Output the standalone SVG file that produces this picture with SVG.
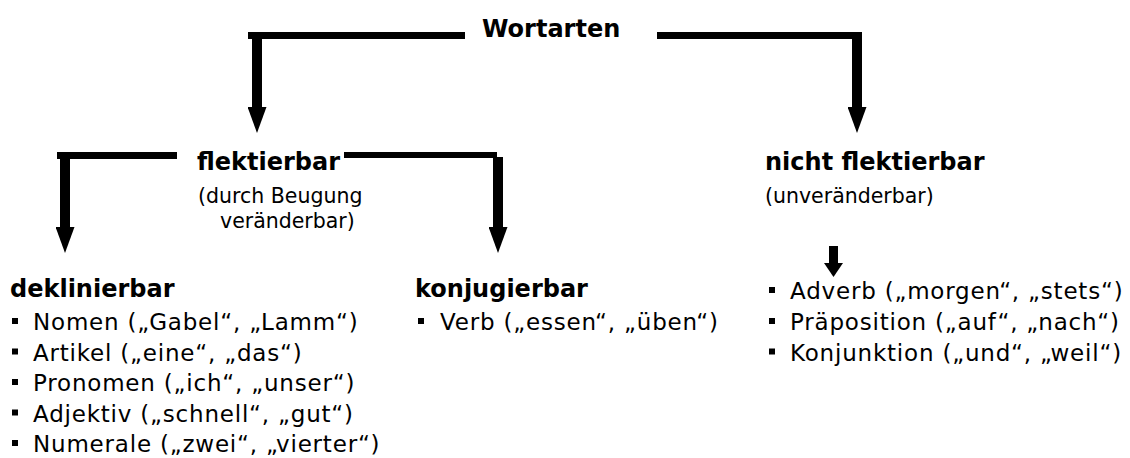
<svg xmlns="http://www.w3.org/2000/svg" width="1130" height="458" viewBox="0 0 1130 458">
<style>
.b{font-family:"DejaVu Sans",Verdana,sans-serif;font-weight:bold;font-size:24px;fill:#000}
.p{font-family:"DejaVu Sans",Verdana,sans-serif;font-size:20.5px;fill:#000}
.l{font-family:"DejaVu Sans",Verdana,sans-serif;font-size:23px;letter-spacing:0.8px;fill:#000}
.h{stroke:#000;stroke-width:7;fill:none}
.v{stroke:#000;stroke-width:10;fill:none}
.bul{fill:#000}
</style>
<defs>
<marker id="arr" markerUnits="userSpaceOnUse" markerWidth="26" markerHeight="19" viewBox="0 0 26 19" refX="0" refY="9.5" orient="auto">
<path d="M0,0 L26,9.5 L0,19 Z" fill="#000"/>
</marker>
<marker id="arrS" markerUnits="userSpaceOnUse" markerWidth="14" markerHeight="19" viewBox="0 0 14 19" refX="0" refY="9.5" orient="auto">
<path d="M0,0 L14,9.5 L0,19 Z" fill="#000"/>
</marker>
</defs>
<rect width="1130" height="458" fill="#fff"/>
<g id="connectors">
<line class="h" x1="248" y1="35.5" x2="465" y2="35.5"/>
<line class="v" x1="257" y1="32" x2="257" y2="107" marker-end="url(#arr)"/>
<line class="h" x1="657" y1="35.5" x2="861" y2="35.5"/>
<line class="v" x1="857" y1="32" x2="857" y2="107" marker-end="url(#arr)"/>
<line class="h" x1="57" y1="155.5" x2="177" y2="155.5"/>
<line class="v" x1="65" y1="152" x2="65" y2="227" marker-end="url(#arr)"/>
<line class="h" x1="344" y1="155" x2="497" y2="155" style="stroke-width:6"/>
<line class="v" x1="498" y1="157" x2="498" y2="227" marker-end="url(#arr)"/>
<line class="v" x1="833.5" y1="246" x2="833.5" y2="263" style="stroke-width:9" marker-end="url(#arrS)"/>
</g>
<g id="wortarten">
<text class="b" x="482" y="37">Wortarten</text>
</g>
<g id="flektierbar">
<text class="b" x="197" y="170">flektierbar</text>
<text class="p" x="198" y="203">(durch Beugung</text>
<text class="p" x="220" y="228">veränderbar)</text>
</g>
<g id="nicht-flektierbar">
<text class="b" x="765" y="170">nicht flektierbar</text>
<text class="p" x="765" y="203">(unveränderbar)</text>
</g>
<g id="deklinierbar">
<text class="b" x="10" y="297">deklinierbar</text>
<rect class="bul" x="12" y="318" width="6" height="6"/>
<text class="l" x="33" y="330">Nomen („Gabel“, „Lamm“)</text>
<rect class="bul" x="12" y="348.5" width="6" height="6"/>
<text class="l" x="33" y="360.5">Artikel („eine“, „das“)</text>
<rect class="bul" x="12" y="379" width="6" height="6"/>
<text class="l" x="33" y="391">Pronomen („ich“, „unser“)</text>
<rect class="bul" x="12" y="409.5" width="6" height="6"/>
<text class="l" x="33" y="421.5">Adjektiv („schnell“, „gut“)</text>
<rect class="bul" x="12" y="440" width="6" height="6"/>
<text class="l" x="33" y="452">Numerale („zwei“, „vierter“)</text>
</g>
<g id="konjugierbar">
<text class="b" x="415" y="297">konjugierbar</text>
<rect class="bul" x="418" y="318" width="6" height="6"/>
<text class="l" x="440" y="330">Verb („essen“, „üben“)</text>
</g>
<g id="unflektiert-liste">
<rect class="bul" x="769" y="287" width="6" height="6"/>
<text class="l" x="790" y="299">Adverb („morgen“, „stets“)</text>
<rect class="bul" x="769" y="318" width="6" height="6"/>
<text class="l" x="790" y="330">Präposition („auf“, „nach“)</text>
<rect class="bul" x="769" y="348.5" width="6" height="6"/>
<text class="l" x="790" y="360.5">Konjunktion („und“, „weil“)</text>
</g>
</svg>
